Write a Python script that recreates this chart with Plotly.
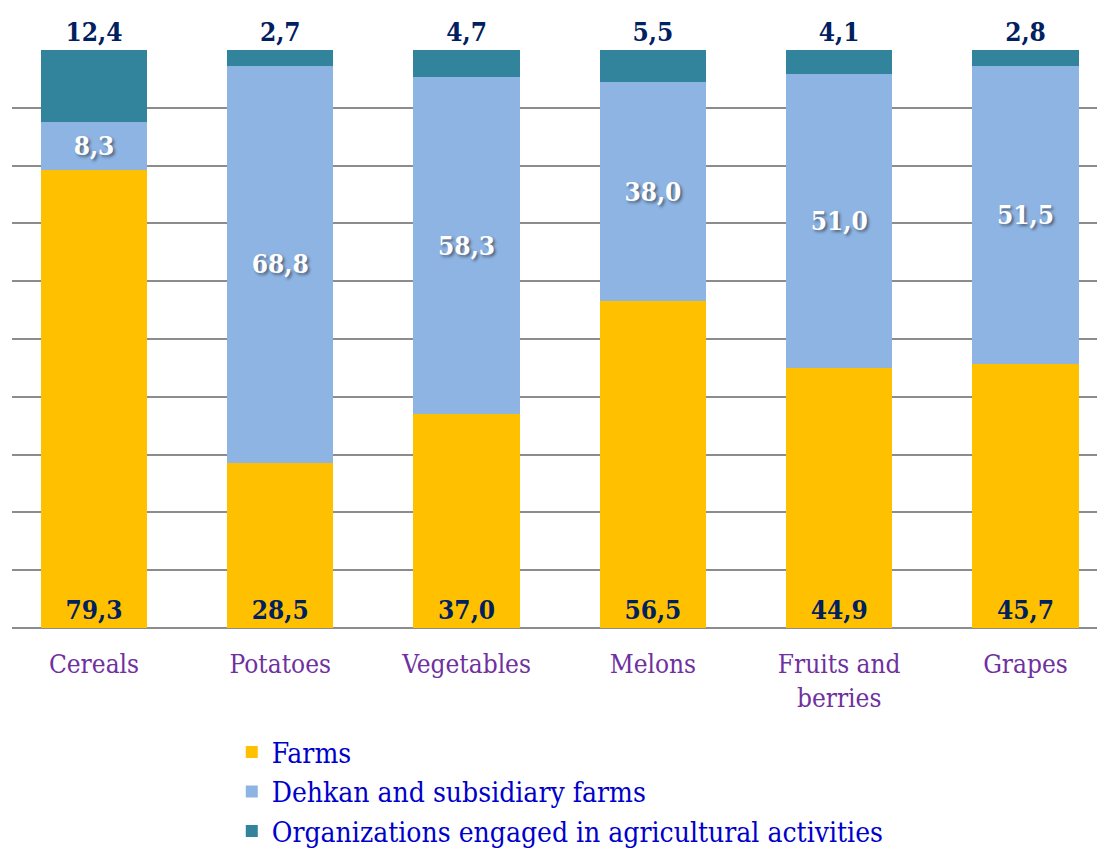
import plotly.graph_objects as go

categories = ["Cereals", "Potatoes", "Vegetables", "Melons", "Fruits and<br>berries", "Grapes"]
farms = [79.3, 28.5, 37.0, 56.5, 44.9, 45.7]
dehkan = [8.3, 68.8, 58.3, 38.0, 51.0, 51.5]
organizations = [12.4, 2.7, 4.7, 5.5, 4.1, 2.8]


def fmt(v):
    return f"{v:.1f}".replace(".", ",")


serif = "DejaVu Serif Condensed, DejaVu Serif"

fig = go.Figure()
fig.add_trace(go.Bar(
    x=categories, y=farms, name="Farms",
    marker=dict(color="#FFC000", line=dict(width=0)),
    text=[fmt(v) for v in farms], textposition="inside", insidetextanchor="start",
    textfont=dict(family=serif, size=26, color="#002060", weight="bold"),
    textangle=0,
))
fig.add_trace(go.Bar(
    x=categories, y=dehkan, name="Dehkan and subsidiary farms",
    marker=dict(color="#8EB4E3", line=dict(width=0)),
    text=[fmt(v) for v in dehkan], textposition="inside", insidetextanchor="middle",
    textfont=dict(family=serif, size=26, color="white", weight="bold",
                  shadow="2px 2px 3px rgba(0,0,0,0.45)"),
    textangle=0,
))
fig.add_trace(go.Bar(
    x=categories, y=organizations, name="Organizations engaged in agricultural activities",
    marker=dict(color="#31849B", line=dict(width=0)),
    text=[fmt(v) for v in organizations], textposition="outside",
    textfont=dict(family=serif, size=26, color="#002060", weight="bold"),
    textangle=0, cliponaxis=False,
))

fig.update_layout(
    width=1105, height=849,
    barmode="stack", bargap=0.43,
    margin=dict(l=4, r=13, t=42, b=229, autoexpand=False),
    plot_bgcolor="white", paper_bgcolor="white",
    font=dict(family=serif),
    xaxis=dict(
        range=[-0.44, 5.40], showgrid=False, ticks="", automargin=False,
        ticklabelstandoff=18,
        tickfont=dict(family=serif, size=26, color="#7030A0"),
    ),
    yaxis=dict(
        range=[0, 100], dtick=10, showticklabels=False, automargin=False,
        showgrid=True, gridcolor="#8C8C8C", gridwidth=2,
        zeroline=True, zerolinecolor="#8C8C8C", zerolinewidth=2,
    ),
    legend=dict(
        x=0.202, y=-0.172, xanchor="left", yanchor="top",
        orientation="v", traceorder="normal",
        font=dict(family=serif, size=28, color="#0000CC"),
        itemwidth=30, tracegroupgap=0,
    ),
    showlegend=True,
)

fig.write_html("out.html")
